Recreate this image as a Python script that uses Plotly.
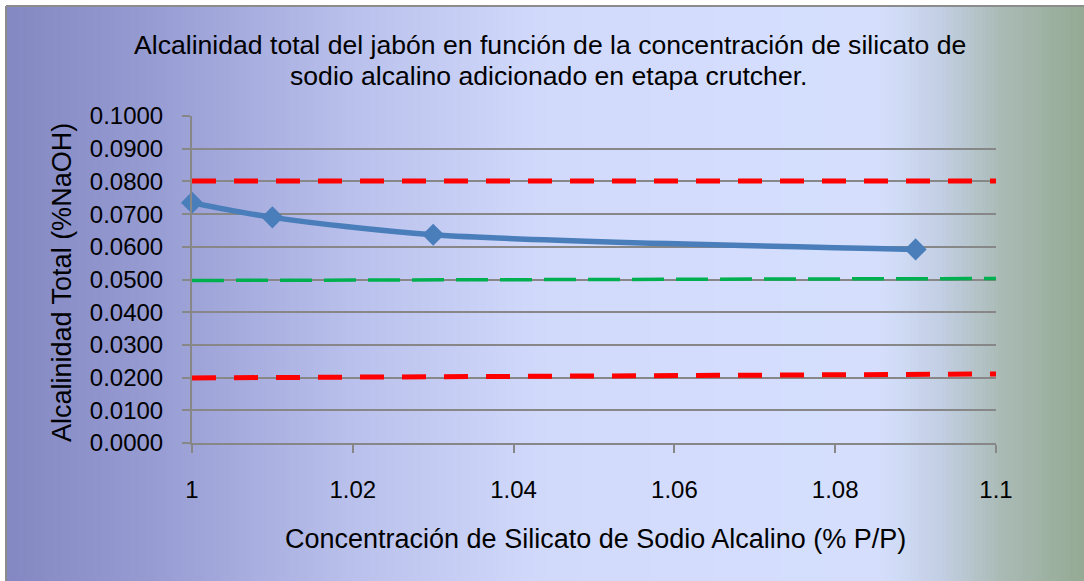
import plotly.graph_objects as go

# Data
silicato = [1.00, 1.01, 1.03, 1.09]
alcalinidad = [0.0735, 0.0690, 0.0637, 0.0592]

limite_x = [1.0, 1.1]
limite_sup = [0.0801, 0.0801]
limite_inf = [0.0199, 0.0211]
referencia = [0.0497, 0.0503]

x_ticks = [1, 1.02, 1.04, 1.06, 1.08, 1.1]
x_ticktext = ["1", "1.02", "1.04", "1.06", "1.08", "1.1"]
y_ticks = [i / 100 for i in range(11)]
y_ticktext = [f"{v:.4f}" for v in y_ticks]

W, H = 1084, 581
L, R, T, B = 192, 88, 116, 138
PW, PH = W - L - R, H - T - B

fig = go.Figure()

fig.add_trace(go.Scatter(x=limite_x, y=limite_sup, mode="lines",
                         line=dict(color="#ff0000", width=5, dash="24px,18px"),
                         hoverinfo="skip"))
fig.add_trace(go.Scatter(x=limite_x, y=limite_inf, mode="lines",
                         line=dict(color="#ff0000", width=5, dash="24px,18px"),
                         hoverinfo="skip"))
fig.add_trace(go.Scatter(x=limite_x, y=referencia, mode="lines",
                         line=dict(color="#00b050", width=3.5, dash="32px,12px"),
                         hoverinfo="skip"))
fig.add_trace(go.Scatter(x=silicato, y=alcalinidad, mode="lines+markers",
                         line=dict(color="#4a7ebb", width=5.5, shape="spline", smoothing=0.8),
                         marker=dict(symbol="diamond", size=17, color="#4a7ebb"),
                         cliponaxis=False))

# Horizontal background gradient built from thin vertical strips
stops = [
    (6, (131, 136, 194)),
    (150, (150, 155, 210)),
    (350, (185, 192, 235)),
    (550, (210, 218, 252)),
    (880, (213, 223, 253)),
    (940, (195, 207, 228)),
    (1000, (170, 187, 182)),
    (1084, (148, 170, 147)),
]


def colour_at(px):
    for (a, ca), (b, cb) in zip(stops[:-1], stops[1:]):
        if a <= px <= b:
            t = (px - a) / (b - a)
            c = [round(ca[i] + (cb[i] - ca[i]) * t) for i in range(3)]
            return f"rgb({c[0]},{c[1]},{c[2]})"
    return "rgb(148,170,147)"


def px_to_paper_x(px):
    return (px - L) / PW


def py_to_paper_y(py):
    return (H - B - py) / PH


shapes = []
step = 4
for px in range(6, W, step):
    shapes.append(dict(type="rect", xref="paper", yref="paper", layer="below",
                       x0=px_to_paper_x(px), x1=px_to_paper_x(px + step + 0.5),
                       y0=py_to_paper_y(H + 2), y1=py_to_paper_y(6),
                       fillcolor=colour_at(px + step / 2), line=dict(width=0)))
# chart frame
shapes.append(dict(type="line", xref="paper", yref="paper", layer="below",
                   x0=px_to_paper_x(6), x1=px_to_paper_x(6),
                   y0=py_to_paper_y(H + 2), y1=py_to_paper_y(6),
                   line=dict(color="#8c8c8c", width=2)))
shapes.append(dict(type="line", xref="paper", yref="paper", layer="below",
                   x0=px_to_paper_x(6), x1=px_to_paper_x(W + 2),
                   y0=py_to_paper_y(6), y1=py_to_paper_y(6),
                   line=dict(color="#8c8c8c", width=2)))

FAMILY = "Liberation Sans, Arial, sans-serif"
title_font = dict(family=FAMILY, size=26.6, color="#000000")
axis_title_font = dict(family=FAMILY, size=27, color="#000000")
tick_font = dict(family=FAMILY, size=24, color="#000000")

annotations = [
    dict(text="Alcalinidad total del jabón en función de la concentración de silicato de",
         xref="paper", yref="paper", x=px_to_paper_x(550), y=py_to_paper_y(45),
         xanchor="center", yanchor="middle", showarrow=False, font=title_font),
    dict(text="sodio alcalino adicionado en etapa crutcher.",
         xref="paper", yref="paper", x=px_to_paper_x(548), y=py_to_paper_y(76),
         xanchor="center", yanchor="middle", showarrow=False, font=title_font),
    dict(text="Concentración de Silicato de Sodio Alcalino (% P/P)",
         xref="paper", yref="paper", x=px_to_paper_x(595), y=py_to_paper_y(539),
         xanchor="center", yanchor="middle", showarrow=False, font=axis_title_font),
    dict(text="Alcalinidad Total (%NaOH)", textangle=-90,
         xref="paper", yref="paper", x=px_to_paper_x(62), y=py_to_paper_y(283),
         xanchor="center", yanchor="middle", showarrow=False, font=axis_title_font),
]

fig.update_layout(
    width=W, height=H,
    margin=dict(l=L, r=R, t=T, b=B),
    paper_bgcolor="white",
    plot_bgcolor="rgba(0,0,0,0)",
    showlegend=False,
    shapes=shapes,
    annotations=annotations,
    xaxis=dict(range=[1, 1.1], tickvals=x_ticks, ticktext=x_ticktext,
               showgrid=False, zeroline=False, showline=True,
               linecolor="#878787", linewidth=2, ticks="outside", ticklen=8,
               tickcolor="#878787", tickwidth=2, tickfont=tick_font,
               ticklabelstandoff=16),
    yaxis=dict(range=[0, 0.1], tickvals=y_ticks, ticktext=y_ticktext,
               showgrid=True, gridcolor="#878787", gridwidth=2, zeroline=False,
               showline=True, linecolor="#878787", linewidth=2,
               ticks="outside", ticklen=8, tickcolor="#878787", tickwidth=2,
               tickfont=tick_font, ticklabelstandoff=14),
)

fig.write_html("out.html")
